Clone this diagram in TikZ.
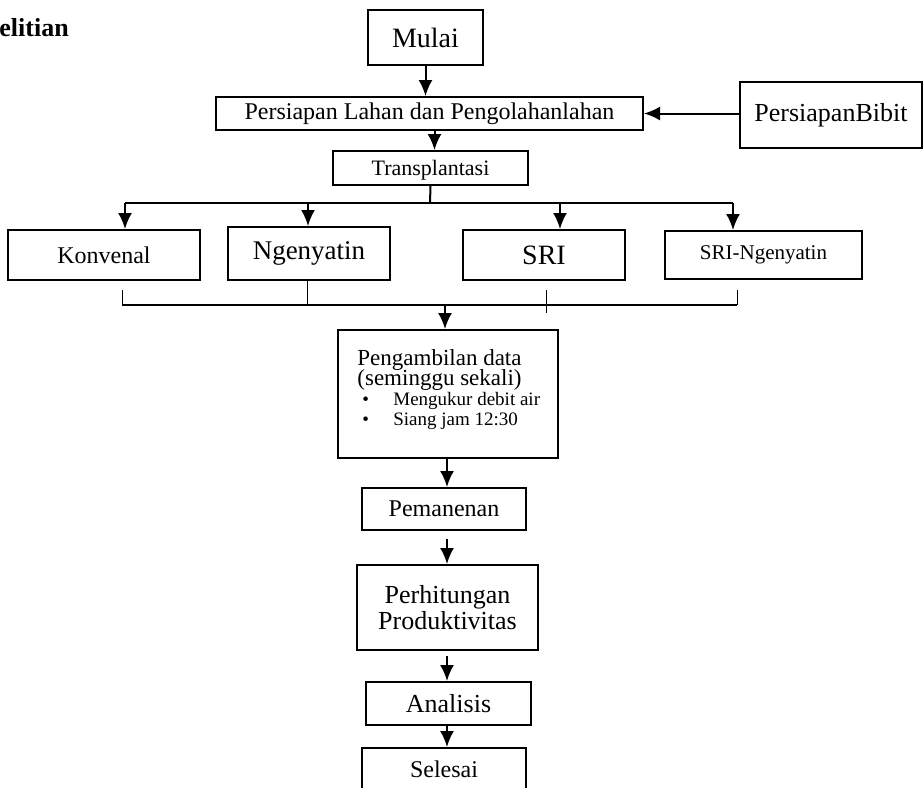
\documentclass[tikz,border=0pt]{standalone}
\usepackage{fontspec}
\setmainfont{Liberation Serif}
\usetikzlibrary{arrows.meta}

\tikzset{
  box/.style={rectangle, draw, line width=1pt, inner sep=1pt},
  arr/.style={-{Latex[length=8pt,width=7pt]}, line width=1pt},
  garis/.style={line width=1pt},
  tipis/.style={line width=0.5pt}
}
\newcommand{\butir}[1]{\smash{\fontsize{9.5}{10}\selectfont\hspace*{2.5pt}\makebox[15.5pt][l]{\textbullet}#1}}

\begin{document}
\begin{tikzpicture}[x=0.5pt, y=-0.5pt]
\useasboundingbox (0,0) rectangle (923,788);

\node[anchor=west, inner sep=0pt, font=\fontsize{13}{15}\selectfont\bfseries] (judul) at (-1,28) {elitian};

% alur atas
\node[box, minimum width=57.5pt, minimum height=27.5pt, font=\fontsize{14}{16}\selectfont] (mulai) at (425.5,37.5) {Mulai};
\node[box, minimum width=213.5pt, minimum height=16.5pt, font=\fontsize{12}{14}\selectfont] (lahan) at (429.5,113.5) {Persiapan Lahan dan Pengolahanlahan};
\node[box, minimum width=91pt, minimum height=33pt, font=\fontsize{13}{15}\selectfont] (bibit) at (831,115) {PersiapanBibit};
\node[box, minimum width=97.5pt, minimum height=17pt, text depth=0pt, font=\fontsize{11}{13}\selectfont] (trans) at (430.5,168) {Transplantasi};

\draw[arr] (mulai.south) -- (mulai.south |- lahan.north);
\draw[arr] (bibit.west |- lahan.east) -- (lahan.east);
\draw[arr] ([xshift=2.5pt]lahan.south) -- ([xshift=2.5pt]lahan.south |- trans.north);

% cabang perlakuan
\coordinate (cabang) at (430,203);
\coordinate (cabangkiri) at (125,203);
\coordinate (cabangkanan) at (733,203);
\draw[garis] (trans.south) -- (cabang);
\draw[garis] (cabangkiri) -- (cabangkanan);

\foreach \nm/\cx/\cy/\ax/\lb/\tg/\fs/\lbl in {kon/104/255/125/96/25/12/Konvenal,
    ngen/309/253.5/308/81/26.5/13.5/Ngenyatin,
    sri/544/255/560/81/25/14/SRI,
    srin/763.5/255/733/98.5/24/10.5/SRI-Ngenyatin} {
  \node[box, minimum width=\lb pt, minimum height=\tg pt, font=\fontsize{\fs}{\fs}\selectfont] (\nm) at (\cx,\cy) {\lbl};
  \coordinate (atas\nm) at (\ax,203);
  \draw[arr] (atas\nm) -- (atas\nm |- \nm.north);
}

% gabungan
\coordinate (gabungkiri) at (122,305);
\coordinate (gabungkanan) at (737,305);
\coordinate (gabung) at (445,305);
\foreach \nm/\tx/\ty/\ey in {kon/122/290/305, sri/546/290/313, srin/737/290/305} {
  \coordinate (bawah\nm) at (\tx,\ty);
  \draw[tipis] (bawah\nm) -- (\tx,\ey);
}
\draw[tipis] (ngen.south -| 307,0) -- (307,305);
\draw[garis] (gabungkiri) -- (gabungkanan);

% pengambilan data
\node[box, minimum width=110pt, minimum height=64pt] (data) at (448,394) {};
\node[anchor=north west, align=left, inner sep=0pt, font=\fontsize{11.5}{10}\selectfont] (datateks) at (357,365)
  {\smash{Pengambilan data}\\\smash{(seminggu sekali)}\\
   \butir{Mengukur debit air}\\
   \butir{Siang jam 12:30}};
\draw[arr] (gabung) -- (gabung |- data.north);

% alur bawah
\node[box, minimum width=82pt, minimum height=21pt, text depth=0pt, font=\fontsize{12}{14}\selectfont] (panen) at (444,509) {Pemanenan};
\node[box, minimum width=90.5pt, minimum height=42.5pt, align=center, font=\fontsize{13}{13}\selectfont] (hitung) at (447.5,607.5) {Perhitungan\\Produktivitas};
\node[box, minimum width=82.5pt, minimum height=21.5pt, text depth=0pt, font=\fontsize{13}{15}\selectfont] (analisis) at (448.5,703.5) {Analisis};
\node[box, minimum width=82pt, minimum height=21pt, font=\fontsize{12}{14}\selectfont] (selesai) at (444,769) {Selesai};

\draw[arr] (data.south -| 447,0) -- (panen.north -| 447,0);
\draw[arr, shorten <=4pt] (panen.south -| 447,0) -- (hitung.north -| 447,0);
\draw[arr, shorten <=2.5pt] (hitung.south -| 447,0) -- (analisis.north -| 447,0);
\draw[arr] (analisis.south -| 447,0) -- (selesai.north -| 447,0);
\end{tikzpicture}
\end{document}
